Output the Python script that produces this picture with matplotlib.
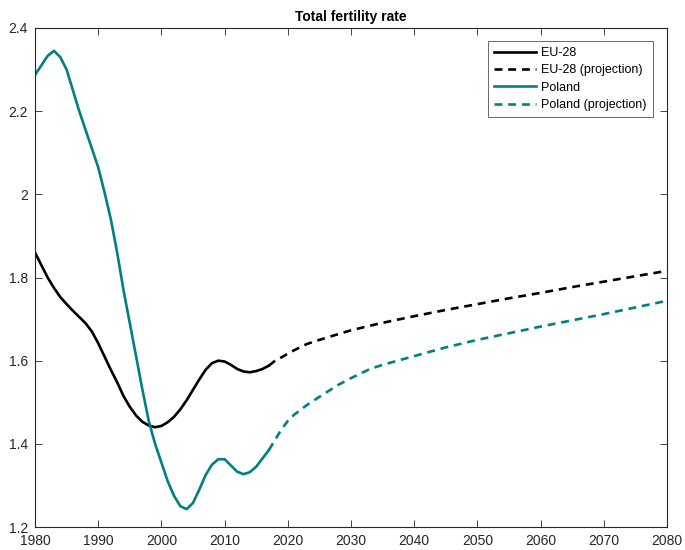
import matplotlib
matplotlib.use("Agg")
import matplotlib.pyplot as plt
from matplotlib.ticker import FormatStrFormatter

plt.rcParams['font.family'] = ['Liberation Sans', 'DejaVu Sans']

# observed series
hist_years = list(range(1980, 2018))
eu_hist = [1.86, 1.83, 1.80, 1.775, 1.753, 1.736, 1.72, 1.705, 1.69, 1.67,
           1.642, 1.61, 1.578, 1.548, 1.515, 1.489, 1.468, 1.453, 1.444, 1.44,
           1.443, 1.452, 1.465, 1.483, 1.505, 1.53, 1.555, 1.578, 1.594, 1.60,
           1.598, 1.59, 1.58, 1.574, 1.572, 1.575, 1.58, 1.588]
pl_hist = [2.287, 2.31, 2.333, 2.345, 2.33, 2.30, 2.25, 2.20, 2.155, 2.11,
           2.065, 2.005, 1.94, 1.86, 1.77, 1.69, 1.61, 1.53, 1.455, 1.40,
           1.355, 1.31, 1.275, 1.25, 1.243, 1.258, 1.29, 1.325, 1.35, 1.363,
           1.363, 1.348, 1.333, 1.327, 1.332, 1.345, 1.365, 1.385]

# projections
proj_years = [2017, 2018, 2019, 2020, 2021, 2023, 2025, 2028, 2030, 2033,
              2035, 2040, 2045, 2050, 2055, 2060, 2065, 2070, 2075, 2080]
eu_proj = [1.588, 1.60, 1.608, 1.617, 1.625, 1.64, 1.65, 1.664, 1.673, 1.684,
           1.691, 1.707, 1.722, 1.736, 1.750, 1.763, 1.777, 1.790, 1.803, 1.816]
pl_proj = [1.385, 1.41, 1.435, 1.455, 1.47, 1.493, 1.513, 1.542, 1.558, 1.58,
           1.59, 1.611, 1.632, 1.650, 1.666, 1.682, 1.697, 1.712, 1.728, 1.744]

teal = '#008080'
axcol = '#262626'

fig = plt.figure(figsize=(6.85, 5.5), dpi=100)
ax = fig.add_axes([0.0511, 0.0418, 0.9226, 0.9073])

lw = 1.9
dash = (3.0, 2.2)
ax.plot(hist_years, eu_hist, color='black', lw=lw, label='EU-28')
ax.plot(proj_years, eu_proj, color='black', lw=lw, dashes=dash,
        label='EU-28 (projection)')
ax.plot(hist_years, pl_hist, color=teal, lw=lw, label='Poland')
ax.plot(proj_years, pl_proj, color=teal, lw=lw, dashes=dash,
        label='Poland (projection)')

ax.set_xlim(1980, 2080)
ax.set_ylim(1.2, 2.4)
ax.set_xticks(range(1980, 2081, 10))
ax.set_yticks([1.2, 1.4, 1.6, 1.8, 2.0, 2.2, 2.4])
ax.yaxis.set_major_formatter(FormatStrFormatter('%g'))
ax.tick_params(direction='in', length=5, width=0.6, top=True, right=True,
               colors=axcol, labelsize=10, pad=5)
for s in ax.spines.values():
    s.set_color(axcol)
    s.set_linewidth(0.8)

ax.set_title('Total fertility rate', fontsize=10, fontweight='bold', pad=5)

leg = ax.legend(loc='upper right', fontsize=9, frameon=True, fancybox=False,
                bbox_to_anchor=(0.978, 0.974), borderaxespad=0.0,
                handlelength=3.4, labelspacing=0.42, handletextpad=0.4,
                borderpad=0.5)
leg.get_frame().set_edgecolor(axcol)
leg.get_frame().set_linewidth(0.6)

fig.savefig('out.png', dpi=100)
